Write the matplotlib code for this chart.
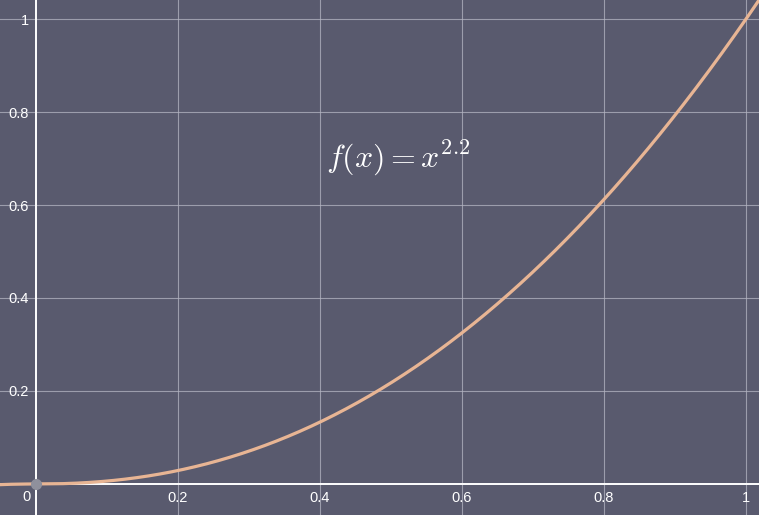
import numpy as np
import matplotlib.pyplot as plt

# function shown in the chart: f(x) = x^2.2
exponent = 2.2
x_ticks = [0.2, 0.4, 0.6, 0.8, 1.0]
y_ticks = [0.2, 0.4, 0.6, 0.8, 1.0]
tick_labels = ["0.2", "0.4", "0.6", "0.8", "1"]

bg = "#595a6e"
curve_col = "#e8b594"

plt.rcParams["mathtext.fontset"] = "cm"
plt.rcParams["font.family"] = ["Liberation Sans", "DejaVu Sans"]

fig = plt.figure(figsize=(7.59, 5.15), dpi=100)
ax = fig.add_axes([0, 0, 1, 1])
ax.set_facecolor(bg)
fig.patch.set_facecolor(bg)

x = np.linspace(-0.06, 1.03, 600)
y = np.sign(x) * np.abs(x) ** exponent
ax.plot(x, y, color=curve_col, lw=2.3, zorder=3, solid_capstyle="round")
ax.plot([0], [0], "o", color="#8f909c", ms=7, zorder=4)

ax.set_xlim(-0.0507, 1.0183)
ax.set_ylim(-0.0667, 1.0409)

for s in ["top", "right"]:
    ax.spines[s].set_visible(False)
ax.spines["left"].set_position(("data", 0))
ax.spines["bottom"].set_position(("data", 0))
for s in ["left", "bottom"]:
    ax.spines[s].set_color("white")
    ax.spines[s].set_linewidth(1.4)
    ax.spines[s].set_zorder(2)

ax.set_xticks(x_ticks)
ax.set_xticklabels(tick_labels)
ax.set_yticks(y_ticks)
ax.set_yticklabels(tick_labels)
ax.tick_params(length=0, colors="white", labelsize=10.5)
ax.tick_params(axis="x", pad=5)
ax.tick_params(axis="y", pad=5)
ax.grid(True, color="#b4b5c2", lw=0.8, alpha=0.75)
ax.set_axisbelow(True)

ax.text(-0.008, -0.012, "0", color="white", fontsize=10.5, ha="right", va="top")

ax.text(0.51, 0.70, r"$f(x)=x^{2.2}$", color="white", fontsize=23,
        ha="center", va="center")

fig.savefig("out.png", dpi=100, facecolor=bg)
